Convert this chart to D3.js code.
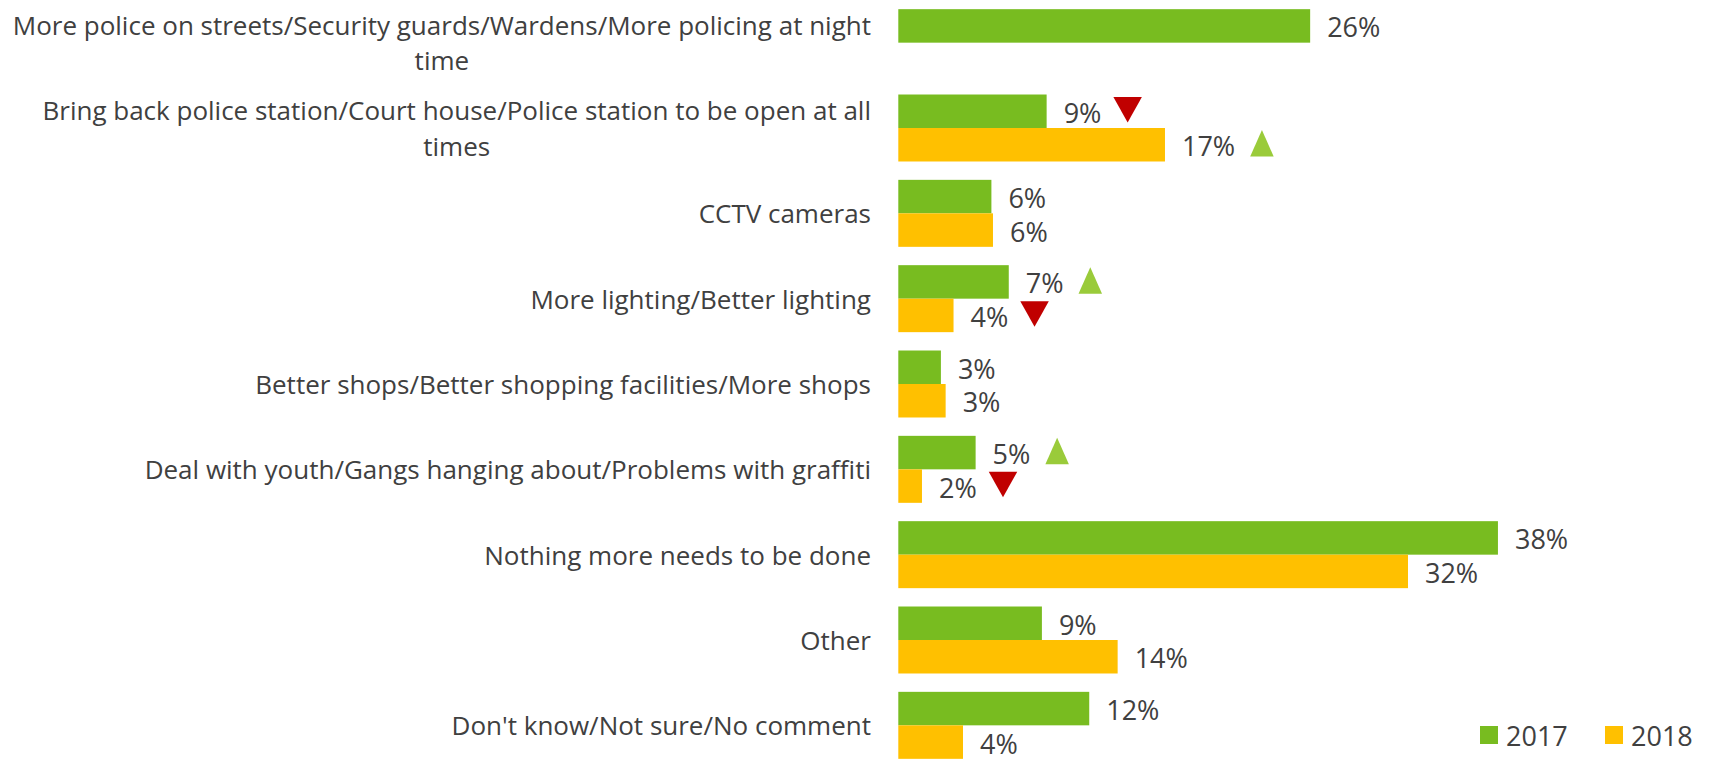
<!DOCTYPE html>
<html>
<head>
<meta charset="utf-8">
<script src="https://cdn.jsdelivr.net/npm/d3@7"></script>
<style>
  html, body { margin: 0; padding: 0; background: #ffffff; }
  svg { display: block; }
  text { font-family: "Open Sans", sans-serif; fill: #404040; }
</style>
</head>
<body>
<svg id="chart" width="1709" height="764"></svg>
<script>
// ---- data ----
const categories = [
  "More police on streets/Security guards/Wardens/More policing at night time",
  "Bring back police station/Court house/Police station to be open at all times",
  "CCTV cameras",
  "More lighting/Better lighting",
  "Better shops/Better shopping facilities/More shops",
  "Deal with youth/Gangs hanging about/Problems with graffiti",
  "Nothing more needs to be done",
  "Other",
  "Don't know/Not sure/No comment"
];
const seriesNames = ["2017", "2018"];
const values2017 = [26.1, 9.4, 5.9, 7.0, 2.7, 4.9, 38.0, 9.1, 12.1];
const values2018 = [null, 16.9, 6.0, 3.5, 3.0, 1.5, 32.3, 13.9, 4.1];
const change2017 = [null, "down", null, "up", null, "up", null, null, null];
const change2018 = [null, "up", null, "down", null, "down", null, null, null];
const seriesColors = ["#78BC20", "#FFC000"];
const arrowColors = { up: "#9ACB3A", down: "#C00000" };

const seriesValues = [values2017, values2018];
const seriesChanges = [change2017, change2018];

// ---- layout ----
const svg = d3.select("#chart");

const x = d3.scaleLinear().domain([0, 40]).range([898.3, 898.3 + 15.78 * 40]);
const y = d3.scaleBand().domain(d3.range(categories.length))
  .range([0, 768]).paddingInner(0.215).paddingOuter(0.1075);
const ySub = d3.scaleBand().domain(seriesNames).range([0, y.bandwidth()]);

const rows = [];
categories.forEach((c, i) => {
  seriesNames.forEach((s, j) => {
    const v = seriesValues[j][i];
    if (v != null) rows.push({ i, s, j, v, change: seriesChanges[j][i] });
  });
});

// bars
svg.append("g").selectAll("rect").data(rows).join("rect")
  .attr("x", x(0))
  .attr("y", d => y(d.i) + ySub(d.s))
  .attr("width", d => x(d.v) - x(0))
  .attr("height", ySub.bandwidth())
  .attr("fill", d => seriesColors[d.j]);

// value labels
const labels = svg.append("g").selectAll("text").data(rows).join("text")
  .attr("x", d => x(d.v) + 17)
  .attr("y", d => y(d.i) + ySub(d.s) + ySub.bandwidth() / 2 + 1)
  .attr("dominant-baseline", "central")
  .style("font-size", "27px")
  .text(d => Math.round(d.v) + "%");

// change arrows
const arrowG = svg.append("g");
labels.each(function (d) {
  if (!d.change) return;
  const end = x(d.v) + 17 + this.getComputedTextLength();
  const cy = y(d.i) + ySub(d.s) + ySub.bandwidth() / 2 - 1.5;
  let p;
  if (d.change === "up") {
    const w = 23.5, h = 26.5, cx = end + 15 + w / 2;
    p = `M${cx - w / 2},${cy + h / 2}L${cx + w / 2},${cy + h / 2}L${cx},${cy - h / 2}Z`;
  } else {
    const w = 28.5, h = 25.5, cx = end + 12 + w / 2;
    p = `M${cx - w / 2},${cy - h / 2}L${cx + w / 2},${cy - h / 2}L${cx},${cy + h / 2}Z`;
  }
  arrowG.append("path").attr("d", p).attr("fill", arrowColors[d.change]);
});

// category labels (wrapped, centered lines, right-aligned block)
const labelRight = 871;
const maxWidth = 880;
const lineH = 35.5;
const catFont = "26px";
const catG = svg.append("g");
categories.forEach((c, i) => {
  const t = catG.append("text").style("font-size", catFont).attr("text-anchor", "middle");
  const words = c.split(" ");
  const lines = [];
  let cur = [];
  const probe = catG.append("text").style("font-size", catFont);
  words.forEach(w => {
    const trial = cur.concat([w]).join(" ");
    probe.text(trial);
    if (probe.node().getComputedTextLength() > maxWidth && cur.length) {
      lines.push(cur.join(" "));
      cur = [w];
    } else cur.push(w);
  });
  lines.push(cur.join(" "));
  let maxW = 0;
  lines.forEach(l => { probe.text(l); maxW = Math.max(maxW, probe.node().getComputedTextLength()); });
  probe.remove();
  const cx = labelRight - maxW / 2;
  const cy = y(i) + y.bandwidth() / 2;
  lines.forEach((l, k) => {
    t.append("tspan")
      .attr("x", cx)
      .attr("y", cy + (k - (lines.length - 1) / 2) * lineH)
      .attr("dominant-baseline", "central")
      .text(l);
  });
});

// legend
const legendX = [1480, 1605];
const legend = svg.append("g").selectAll("g").data(seriesNames).join("g")
  .attr("transform", (d, j) => `translate(${legendX[j]},726)`);
legend.append("rect").attr("width", 18).attr("height", 18)
  .attr("fill", (d, j) => seriesColors[j]);
legend.append("text").attr("x", 26).attr("y", 9.5)
  .attr("dominant-baseline", "central")
  .style("font-size", "27px")
  .text(d => d);
</script>
</body>
</html>
